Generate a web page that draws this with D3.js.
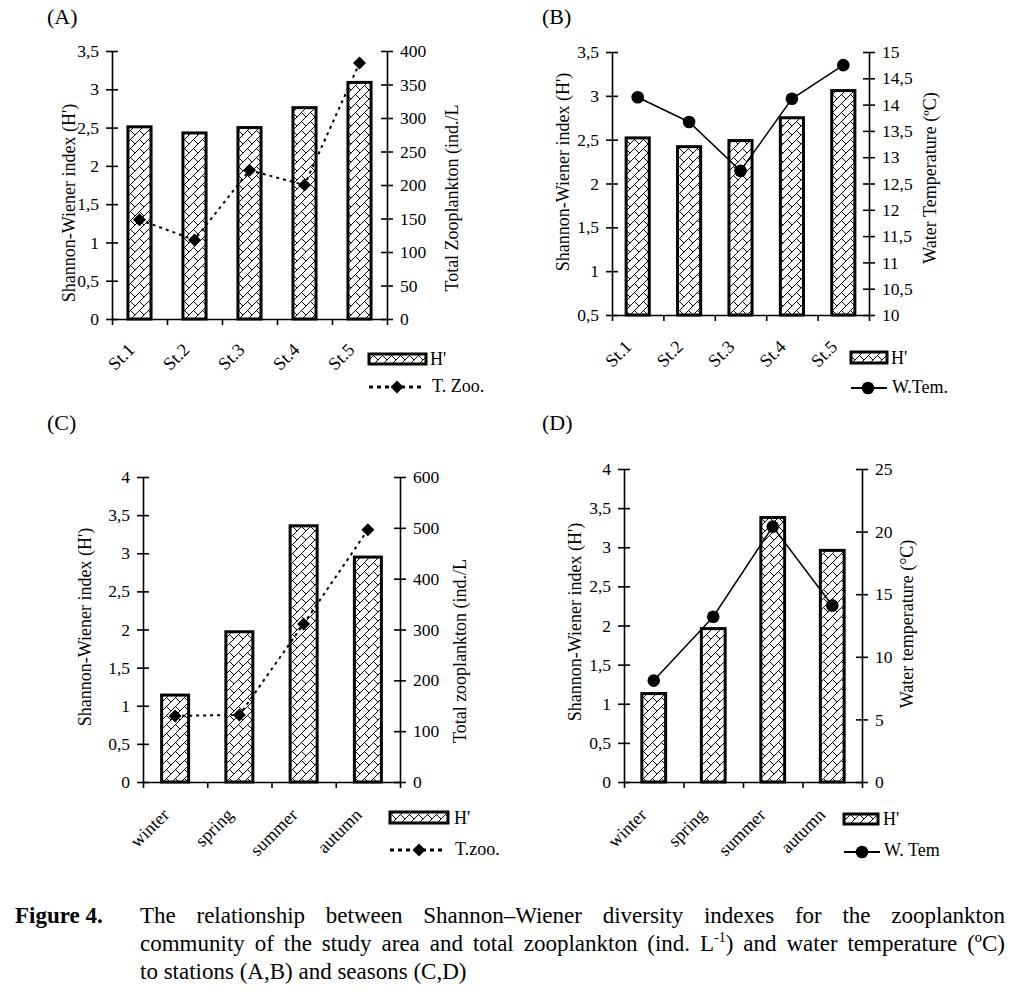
<!DOCTYPE html>
<html><head><meta charset="utf-8">
<script src="https://cdn.jsdelivr.net/npm/d3@7"></script>
<style>
body{margin:0;background:#fff}
svg{display:block}
text{font-family:"Liberation Serif","Times New Roman",serif;fill:#000}
</style>
</head><body>
<svg id="chart" width="1012" height="991"></svg>
<script>
// ---------- DATA ----------
const stations = ["St.1","St.2","St.3","St.4","St.5"];
const seasons = ["winter","spring","summer","autumn"];
// Panel A
const hStationsA = [2.51, 2.43, 2.50, 2.76, 3.09];
const totZooStations = [148, 118, 222, 200, 382];
// Panel B
const hStationsB = [2.52, 2.42, 2.49, 2.75, 3.06];
const wTempStations = [14.14, 13.67, 12.74, 14.11, 14.75];
// Panel C
const hSeasonsC = [1.14, 1.97, 3.36, 2.95];
const totZooSeasons = [130, 132, 311, 496];
// Panel D
const hSeasonsD = [1.13, 1.96, 3.38, 2.96];
const wTempSeasons = [8.1, 13.2, 20.4, 14.1];
// Tick values
const ticksH35 = [0, 0.5, 1, 1.5, 2, 2.5, 3, 3.5];
const ticksH35b = [0.5, 1, 1.5, 2, 2.5, 3, 3.5];
const ticksH4 = [0, 0.5, 1, 1.5, 2, 2.5, 3, 3.5, 4];
const ticksZoo400 = [0, 50, 100, 150, 200, 250, 300, 350, 400];
const ticksTemp15 = [10, 10.5, 11, 11.5, 12, 12.5, 13, 13.5, 14, 14.5, 15];
const ticksZoo600 = [0, 100, 200, 300, 400, 500, 600];
const ticksTemp25 = [0, 5, 10, 15, 20, 25];

// ---------- SETUP ----------
const svg = d3.select("#chart");
svg.append("rect").attr("width",1012).attr("height",991).attr("fill","#fff");
const defs = svg.append("defs");
const T = 9;
const pat = defs.append("pattern").attr("id","brick").attr("patternUnits","userSpaceOnUse")
  .attr("width",T).attr("height",T);
pat.append("rect").attr("width",T).attr("height",T).attr("fill","#fff");
pat.append("path").attr("d",`M0,${T} L${T},0 M-2,2 L2,-2 M${T-2},${T+2} L${T+2},${T-2} M${T/2},${T/2} L${T},${T}`)
  .attr("stroke","#000").attr("stroke-width",1).attr("fill","none");

const fmt = v => String(v).replace(".", ",");
const diamondPath = r => `M0,${-r} L${r},0 L0,${r} L${-r},0Z`;

function drawMarker(g, type, x, y){
  if(type === "diamond"){
    g.append("path").attr("d", diamondPath(6.5)).attr("transform",`translate(${x},${y})`).attr("fill","#000");
  } else {
    g.append("circle").attr("cx",x).attr("cy",y).attr("r",6.3).attr("fill","#000");
  }
}

function panel(cfg){
  const g = svg.append("g");
  const n = cfg.cats.length;
  const xb = d3.scaleBand().domain(cfg.cats).range([cfg.x0, cfg.x1]).padding(0);
  const xEdge = d3.scaleLinear().domain([0, n]).range([cfg.x0, cfg.x1]);
  const yL = d3.scaleLinear().domain(cfg.leftDomain).range([cfg.yBot, cfg.yTop]);
  const yR = d3.scaleLinear().domain(cfg.rightDomain).range([cfg.yBot, cfg.yTop]);
  const bw = xb.bandwidth() * cfg.barFrac;

  // bars
  g.selectAll("rect.bar").data(cfg.bars).join("rect").attr("class","bar")
    .attr("x",(d,i)=> xb(cfg.cats[i]) + xb.bandwidth()/2 - bw/2)
    .attr("y", d=> yL(d))
    .attr("width", bw)
    .attr("height", d=> yL(cfg.leftDomain[0]) - yL(d))
    .attr("fill","url(#brick)").attr("stroke","#000").attr("stroke-width",3);

  // line
  const pts = cfg.line.map((d,i)=>[xb(cfg.cats[i]) + xb.bandwidth()/2, yR(d)]);
  g.append("path").attr("d", d3.line()(pts)).attr("fill","none").attr("stroke","#000")
    .attr("stroke-width", cfg.marker==="diamond"?2:1.5)
    .attr("stroke-dasharray", cfg.marker==="diamond"?"3,4":null);
  pts.forEach(p=>drawMarker(g, cfg.marker, p[0], p[1]));

  // axes
  const axL = g.append("g").attr("transform",`translate(${cfg.x0},0)`)
    .call(d3.axisLeft(yL).tickValues(cfg.leftTicks).tickFormat(fmt).tickSize(6).tickSizeOuter(0).tickPadding(7));
  axL.selectAll(".tick line").attr("x1",-6).attr("x2",6);
  const axR = g.append("g").attr("transform",`translate(${cfg.x1},0)`)
    .call(d3.axisRight(yR).tickValues(cfg.rightTicks).tickFormat(fmt).tickSize(6).tickSizeOuter(0).tickPadding(7));
  axR.selectAll(".tick line").attr("x1",-6).attr("x2",6);
  const axB = g.append("g").attr("transform",`translate(0,${cfg.yBot})`)
    .call(d3.axisBottom(xEdge).tickValues(d3.range(n+1)).tickFormat("").tickSize(6).tickSizeOuter(0));
  [axL, axR, axB].forEach(a=>{
    a.selectAll("path.domain").attr("stroke","#000").attr("stroke-width",1.6);
    a.selectAll(".tick line").attr("stroke","#000").attr("stroke-width",1.6);
    a.selectAll("text").attr("font-family",'"Liberation Serif","Times New Roman",serif').attr("font-size",17.5).attr("fill","#000");
  });

  // category labels
  cfg.cats.forEach(c=>{
    const cx = xb(c) + xb.bandwidth()/2 + cfg.catDx;
    const cy = cfg.yBot + cfg.catDy;
    g.append("text").attr("transform",`translate(${cx},${cy}) rotate(-45)`)
      .attr("text-anchor","end").attr("font-size",18).text(c);
  });

  // axis titles
  g.append("text").attr("transform",`translate(${cfg.lt[0]},${cfg.lt[1]}) rotate(-90)`)
    .attr("text-anchor","middle").attr("dy","0.35em").attr("font-size",18).text(cfg.leftTitle);
  g.append("text").attr("transform",`translate(${cfg.rt[0]},${cfg.rt[1]}) rotate(-90)`)
    .attr("text-anchor","middle").attr("dy","0.35em").attr("font-size",18).text(cfg.rightTitle);

  // panel label
  g.append("text").attr("x",cfg.pl[0]).attr("y",cfg.pl[1]).attr("font-size",22).text(cfg.panelLabel);

  // legend
  const L = cfg.legend;
  g.append("rect").attr("x",L.rx).attr("y",L.ry).attr("width",L.rw).attr("height",L.rh)
    .attr("fill","url(#brick)").attr("stroke","#000").attr("stroke-width",3);
  g.append("text").attr("x",L.tx1).attr("y",L.ty1).attr("font-size",18).text("H'");
  g.append("line").attr("x1",L.lx0).attr("x2",L.lx1).attr("y1",L.ly).attr("y2",L.ly)
    .attr("stroke","#000").attr("stroke-width", cfg.marker==="diamond"?3:2)
    .attr("stroke-dasharray", cfg.marker==="diamond"?"4,4":null);
  drawMarker(g, cfg.marker, L.mx, L.ly);
  g.append("text").attr("x",L.tx2).attr("y",L.ty2).attr("font-size",18).text(cfg.lineLabel);
}

panel({cats:stations, bars:hStationsA, line:totZooStations, marker:"diamond",
  x0:112, x1:387, yTop:51, yBot:319, barFrac:0.42,
  leftDomain:[0,3.5], leftTicks:ticksH35, rightDomain:[0,400], rightTicks:ticksZoo400,
  catDx:-4, catDy:32,
  leftTitle:"Shannon-Wiener index (H')", lt:[69,203],
  rightTitle:"Total Zooplankton (ind./L", rt:[452,198],
  panelLabel:"(A)", pl:[47,24], lineLabel:"T. Zoo.",
  legend:{rx:369,ry:354,rw:57,rh:10,tx1:430,ty1:365,lx0:369,lx1:423,ly:387,mx:397,tx2:432,ty2:392}});

panel({cats:stations, bars:hStationsB, line:wTempStations, marker:"circle",
  x0:612, x1:869, yTop:52, yBot:315, barFrac:0.45,
  leftDomain:[0.5,3.5], leftTicks:ticksH35b, rightDomain:[10,15], rightTicks:ticksTemp15,
  catDx:-5, catDy:33,
  leftTitle:"Shannon-Wiener index (H')", lt:[563,172],
  rightTitle:"Water Temperature (ºC)", rt:[930,178],
  panelLabel:"(B)", pl:[542,24], lineLabel:"W.Tem.",
  legend:{rx:851,ry:352,rw:36,rh:11,tx1:891,ty1:364,lx0:851,lx1:887,ly:388,mx:868,tx2:892,ty2:393}});

panel({cats:seasons, bars:hSeasonsC, line:totZooSeasons, marker:"diamond",
  x0:143, x1:400, yTop:477, yBot:782, barFrac:0.42,
  leftDomain:[0,4], leftTicks:ticksH4, rightDomain:[0,600], rightTicks:ticksZoo600,
  catDx:-5, catDy:34,
  leftTitle:"Shannon-Wiener index (H')", lt:[85,627],
  rightTitle:"Total zooplankton (ind./L", rt:[460,651],
  panelLabel:"(C)", pl:[47,430], lineLabel:"T.zoo.",
  legend:{rx:390,ry:812,rw:58,rh:11,tx1:454,ty1:824,lx0:390,lx1:445,ly:850,mx:419,tx2:455,ty2:855}});

panel({cats:seasons, bars:hSeasonsD, line:wTempSeasons, marker:"circle",
  x0:624, x1:862, yTop:469, yBot:782, barFrac:0.40,
  leftDomain:[0,4], leftTicks:ticksH4, rightDomain:[0,25], rightTicks:ticksTemp25,
  catDx:-6, catDy:34,
  leftTitle:"Shannon-Wiener index (H')", lt:[575,622],
  rightTitle:"Water temperature (°C)", rt:[907,624],
  panelLabel:"(D)", pl:[542,430], lineLabel:"W. Tem",
  legend:{rx:844,ry:814,rw:34,rh:10,tx1:883,ty1:825,lx0:844,lx1:880,ly:852,mx:862,tx2:884,ty2:856}});

// ---------- CAPTION ----------
const capFont = 23;
const cap = svg.append("g").attr("font-size",capFont);
cap.append("text").attr("x",15).attr("y",923).attr("font-weight","bold").text("Figure 4.");

function justify(words, x0, x1, y){
  const nodes = words.map(w=>{
    const t = cap.append("text").attr("y",y);
    if(typeof w === "string"){ t.text(w); }
    else { w(t); }
    return t;
  });
  const widths = nodes.map(t=>t.node().getComputedTextLength());
  const total = d3.sum(widths);
  const gap = (x1 - x0 - total)/(words.length-1);
  let x = x0;
  nodes.forEach((t,i)=>{ t.attr("x",x); x += widths[i] + gap; });
}
const line1 = ["The","relationship","between","Shannon–Wiener","diversity","indexes","for","the","zooplankton"];
const line2 = ["community","of","the","study","area","and","total","zooplankton","(ind.",
  t=>{ t.append("tspan").text("L"); t.append("tspan").attr("font-size",14).attr("dy",-9).text("-1");
       t.append("tspan").attr("dy",9).text(")"); },
  "and","water","temperature","(ºC)"];
justify(line1, 140, 1005, 923);
justify(line2, 140, 1005, 951);
cap.append("text").attr("x",140).attr("y",979).text("to stations (A,B) and seasons (C,D)");
</script>
</body></html>
